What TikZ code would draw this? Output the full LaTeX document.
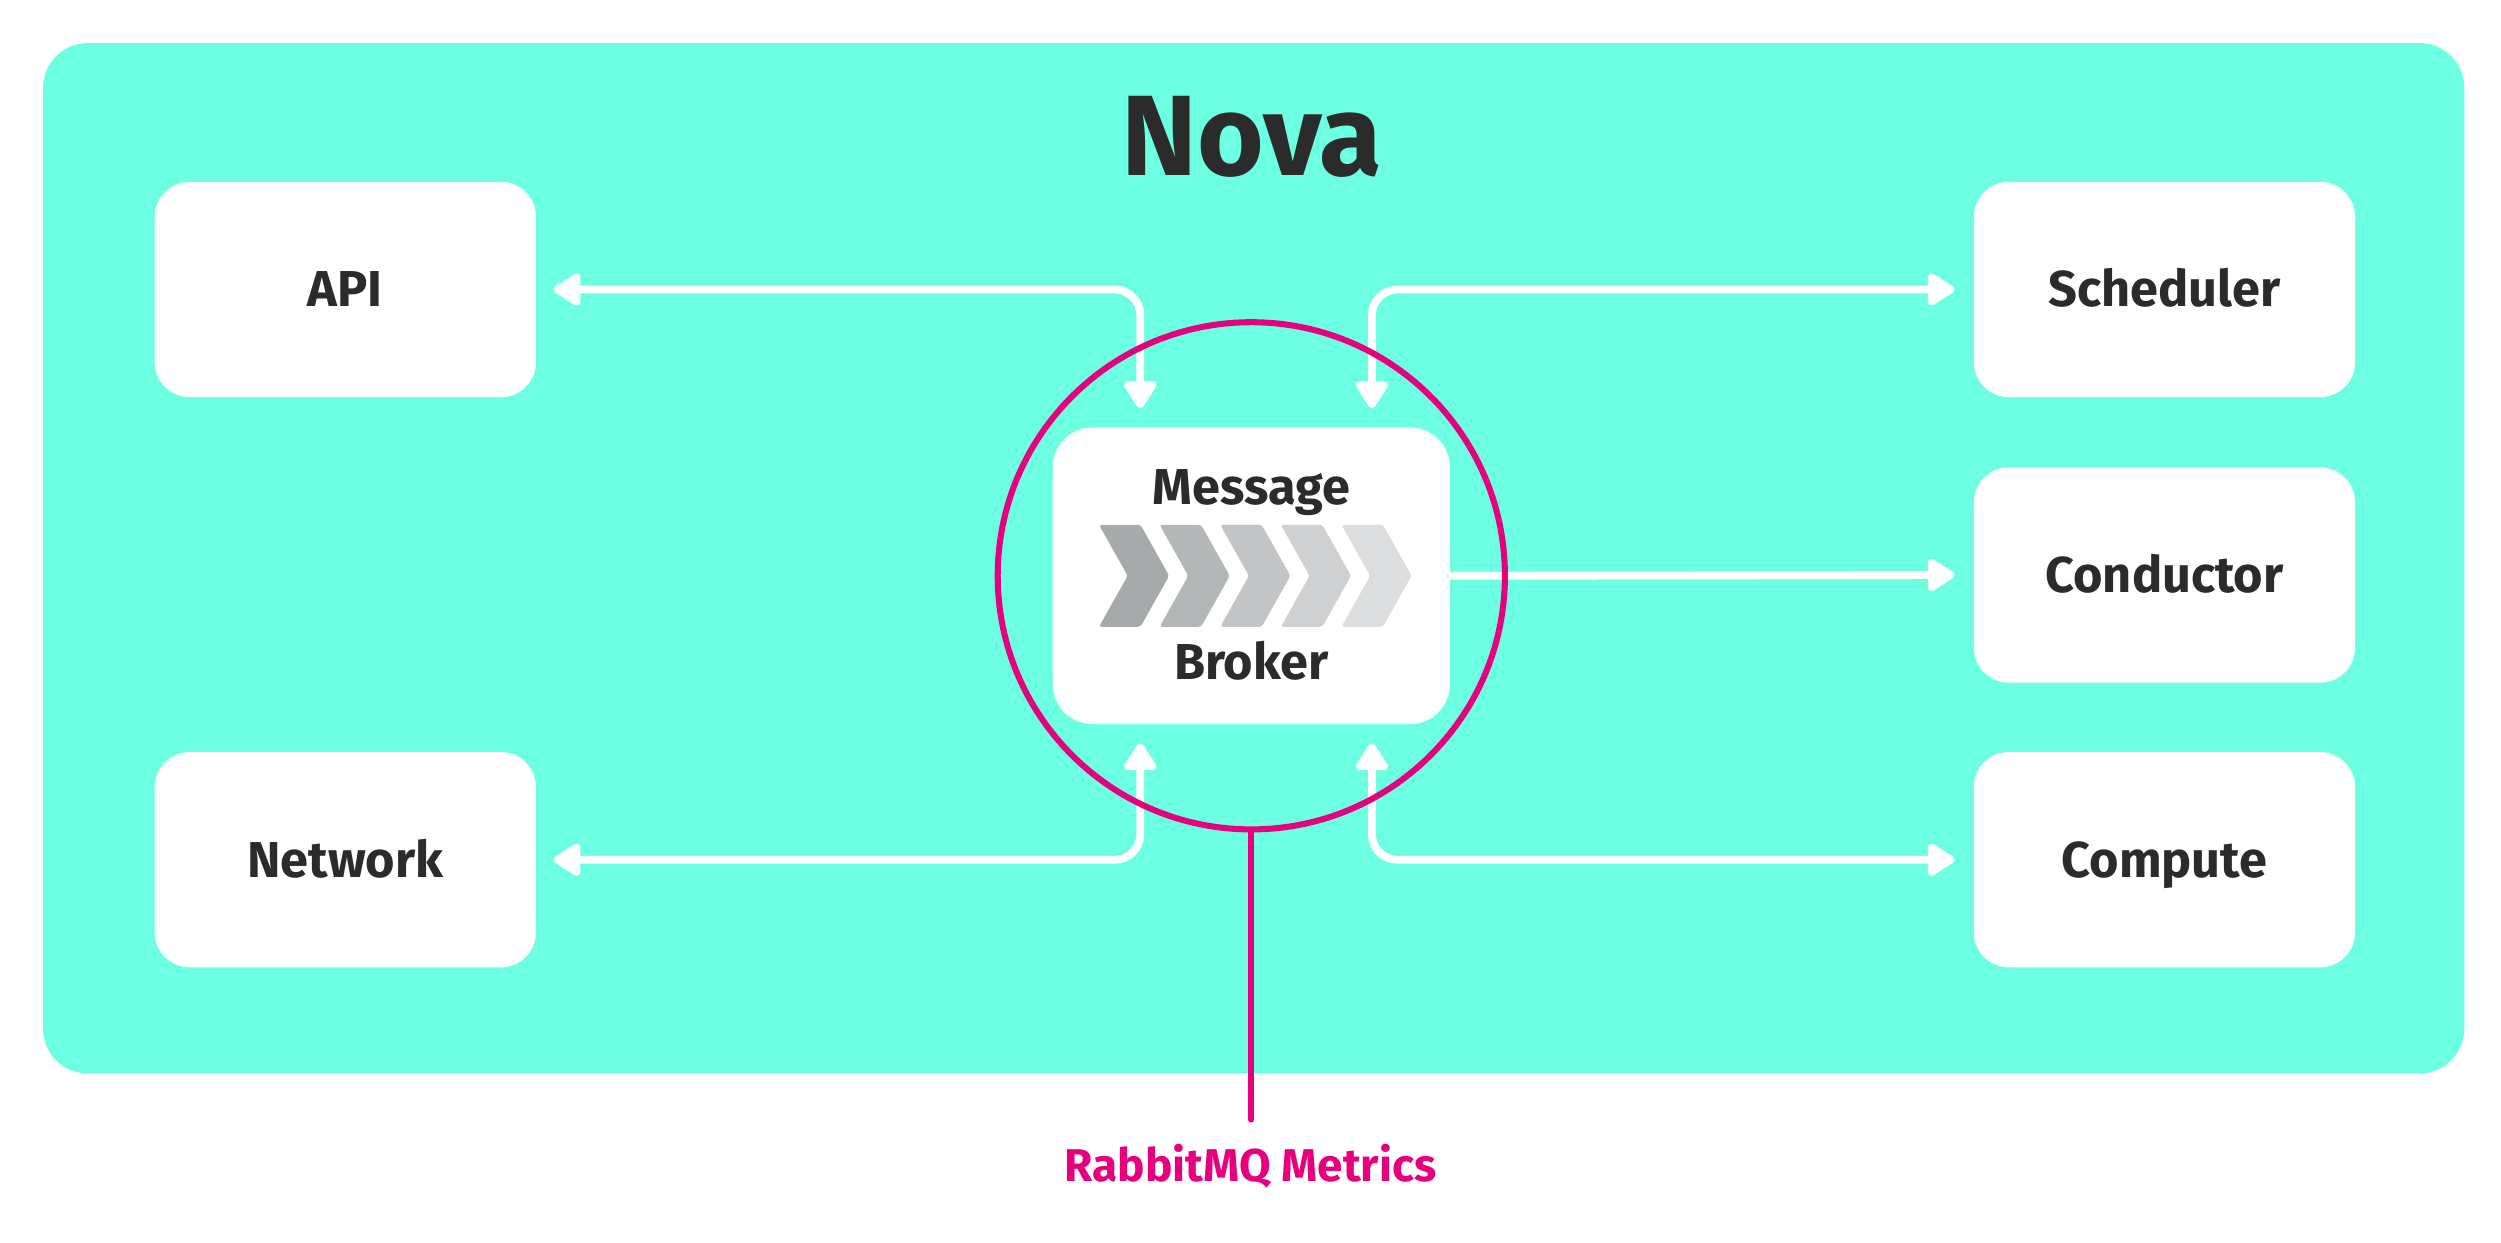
\documentclass[tikz,border=0pt]{standalone}
\usepackage{fontspec}
\setmainfont{Fira Sans}
\usetikzlibrary{arrows.meta,calc}
\definecolor{novabg}{HTML}{6CFFE1}
\definecolor{rmqpink}{HTML}{E6007E}
\definecolor{txtdark}{HTML}{2B2B2B}
\definecolor{chA}{HTML}{A6AAAA}
\definecolor{chB}{HTML}{B4B7B7}
\definecolor{chC}{HTML}{C2C4C5}
\definecolor{chD}{HTML}{CFD0D1}
\definecolor{chE}{HTML}{DCDDDE}
\tikzset{
  compbox/.style={fill=white, rounded corners=1.1cm, minimum width=11.95cm, minimum height=6.75cm,
    inner sep=0pt, text height=31pt, text depth=0pt, text=txtdark, font=\fontsize{45}{54}\selectfont\bfseries},
  brokerbox/.style={fill=white, rounded corners=1.25cm, minimum width=12.45cm, minimum height=9.3cm, inner sep=0pt},
  brokerlbl/.style={text=txtdark, font=\fontsize{45}{54}\selectfont\bfseries, inner sep=0pt},
  wconn/.style={draw=white, line width=7pt, rounded corners=0.8cm},
  >={Triangle[length=27pt,width=32pt,round]},
  pinkline/.style={draw=rmqpink, line width=5.4pt}
}
\begin{document}
\begin{tikzpicture}[x=0.05cm,y=-0.05cm]
\useasboundingbox (0,0) rectangle (1568,779);
\fill[novabg, rounded corners=1.4cm] (27,27) rectangle (1545,673);
\node[text=txtdark, font=\fontsize{102}{112}\selectfont\bfseries, anchor=base, inner sep=0pt] (nova) at (785,110) {Nova};
% component boxes
\node[compbox] (api) at (216.5,181.5) {API};
\node[compbox] (net) at (216.5,539) {Network};
\node[compbox] (sch) at (1357,181.5) {Scheduler};
\node[compbox] (cond) at (1357,360.5) {Conductor};
\node[compbox] (comp) at (1357,539) {Compute};
\node[brokerbox] (mb) at (784.5,361) {};
% chevrons
\foreach \i/\c in {0/chA,1/chB,2/chC,3/chD,4/chE}{
  \fill[\c, rounded corners=2.5pt] ($(mb.center)+(-95.5+\i*38,-32)$) -- ++(26,0) -- ++(18,32) -- ++(-18,32) -- ++(-26,0) -- ++(18,-32) -- cycle;
}
\node[brokerlbl, anchor=base] (msg) at ($(mb.center)+(0,-45)$) {Message};
\node[brokerlbl, anchor=base] (brk) at ($(mb.center)+(0,65)$) {Broker};
% connectors
\draw[wconn,<->] ($(api.east)+(11,0)$) -| ($(mb.north west)+(55,-12)$);
\draw[wconn,<->] ($(mb.north east)+(-49,-12)$) |- ($(sch.west)+(-12,0)$);
\draw[wconn,->] (mb.east) -- ($(cond.west)+(-12,0)$);
\draw[wconn,<->] ($(net.east)+(11,0)$) -| ($(mb.south west)+(55,12)$);
\draw[wconn,<->] ($(mb.south east)+(-49,12)$) |- ($(comp.west)+(-12,0)$);
% ring and metrics
\node[circle, draw=rmqpink, line width=5.4pt, minimum size=15.9cm, inner sep=0pt] (ring) at (mb.center) {};
\node[text=rmqpink, font=\fontsize{41}{48}\selectfont\bfseries, anchor=base, inner sep=0pt] (rmq) at (784,741) {RabbitMQ Metrics};
\coordinate (tail) at ($(ring.south)+(0,180)$);
\draw[pinkline, line cap=round] (ring.south) -- (tail);
\end{tikzpicture}
\end{document}
